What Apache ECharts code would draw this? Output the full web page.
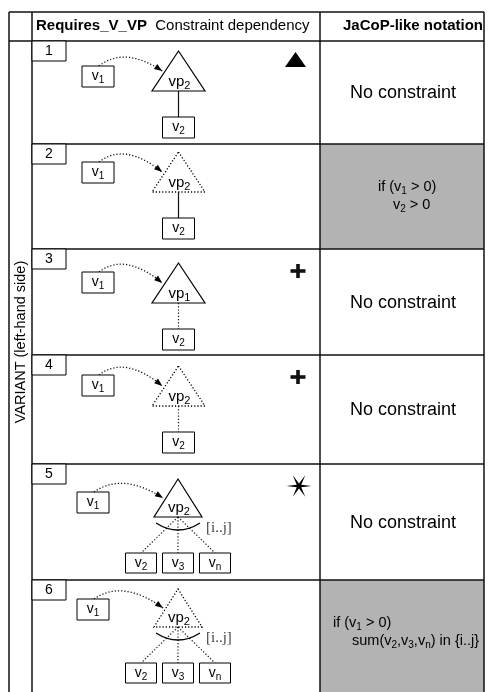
<!DOCTYPE html>
<html>
<head>
<meta charset="utf-8">
<title>Requires_V_VP</title>
<script src="https://cdn.jsdelivr.net/npm/echarts@6/dist/echarts.min.js"></script>
<style>
html, body { margin: 0; padding: 0; background: #fff; }
#main { width: 489px; height: 692px; }
</style>
</head>
<body>
<div id="main"></div>
<script>
// table content, one entry per row ({s|..} = subscript)
var rowIds = ['1', '2', '3', '4', '5', '6'];
var vpLabels = ['vp{s|2}', 'vp{s|2}', 'vp{s|1}', 'vp{s|2}', 'vp{s|2}', 'vp{s|2}'];
var vpOptional = [false, true, false, true, false, true];
var childLinks = ['solid', 'solid', 'dotted', 'dotted', 'group', 'group'];
var childLabels = [
    ['v{s|2}'], ['v{s|2}'], ['v{s|2}'], ['v{s|2}'],
    ['v{s|2}', 'v{s|3}', 'v{s|n}'], ['v{s|2}', 'v{s|3}', 'v{s|n}']
];
var markers = ['triangle', '', 'plus', 'plus', 'star', ''];
var notations = [
    ['No constraint'],
    ['if (v{s|1} > 0)', 'v{s|2} > 0'],
    ['No constraint'],
    ['No constraint'],
    ['No constraint'],
    ['if (v{s|1} > 0)', 'sum(v{s|2},v{s|3},v{s|n}) in {i..j}']
];
var grayCells = [false, true, false, false, false, true];
var headers = ['{b|Requires_V_VP}  Constraint dependency', 'JaCoP-like notation'];
var sideLabel = 'VARIANT (left-hand side)';
var rangeLabel = '[i..j]';

// layout
var H = 692;
var X0 = 9, X1 = 32, X2 = 320, X3 = 484;
var Y0 = 12, Y1 = 41;
var rowTops = [41, 144, 249, 355, 464, 580];
var v1Tops = [25, 18, 23, 20, 28, 19];
var triDy = [0, -2, 4, 1, 3, -3];
var noteX = [null, [378, 393], null, null, null, [333, 352]];
var FONT = '"Liberation Sans", Arial, Helvetica, sans-serif';
var SERIF = '"Liberation Serif", "Times New Roman", serif';

var els = [];

function txt(x, y, text, size, align, extra) {
    var style = {
        text: text,
        fontSize: size,
        fontFamily: FONT,
        fill: '#000',
        align: align || 'center',
        textAlign: align || 'center',
        verticalAlign: 'middle',
        textVerticalAlign: 'middle',
        lineHeight: Math.round(size * 1.25),
        rich: {
            s: {
                fontSize: Math.round(size * 0.7),
                fontFamily: FONT,
                fill: '#000',
                lineHeight: Math.round(size * 0.75),
                verticalAlign: 'bottom'
            },
            b: {
                fontSize: size,
                fontWeight: 'bold',
                fontFamily: FONT,
                fill: '#000',
                lineHeight: Math.round(size * 1.25)
            }
        }
    };
    if (extra) Object.assign(style, extra);
    return { type: 'text', x: x, y: y, z: 10, style: style };
}

function line(x1, y1, x2, y2, w, dotted) {
    return {
        type: 'line', z: 5,
        shape: { x1: x1, y1: y1, x2: x2, y2: y2 },
        style: { stroke: '#111', lineWidth: w, lineDash: dotted ? [1.2, 2] : null }
    };
}

function box(x, y, w, h, label, size) {
    els.push({
        type: 'rect', z: 6,
        shape: { x: x, y: y, width: w, height: h },
        style: { fill: '#fff', stroke: '#000', lineWidth: 1 }
    });
    els.push(txt(x + w / 2, y + h / 2, label, size || 14));
}

function arrow(sx, sy, ex, ey) {
    var cx = (sx + ex) / 2 - 6, cy = Math.min(sy, ey) - 20;
    els.push({
        type: 'bezierCurve', z: 5,
        shape: { x1: sx, y1: sy, x2: ex, y2: ey, cpx1: cx, cpy1: cy },
        style: { stroke: '#111', lineWidth: 1.3, lineDash: [1.2, 2], fill: null }
    });
    var dx = ex - cx, dy = ey - cy, len = Math.sqrt(dx * dx + dy * dy);
    dx /= len; dy /= len;
    var bx = ex - dx * 8, by = ey - dy * 8;
    els.push({
        type: 'polygon', z: 6,
        shape: { points: [[ex, ey], [bx - dy * 3, by + dx * 3], [bx + dy * 3, by - dx * 3]] },
        style: { fill: '#000' }
    });
}

// gray cells first
rowTops.forEach(function (top, i) {
    var bottom = i < rowTops.length - 1 ? rowTops[i + 1] : H;
    if (grayCells[i]) {
        els.push({
            type: 'rect', z: 1,
            shape: { x: X2, y: top, width: X3 - X2, height: bottom - top },
            style: { fill: '#b3b3b3' }
        });
    }
});

// grid
[X0, X1, X2, X3].forEach(function (x) { els.push(line(x, Y0, x, H, 1.5)); });
els.push(line(X0, Y0, X3, Y0, 1.5));
els.push(line(X0, Y1, X3, Y1, 1.5));
rowTops.slice(1).forEach(function (y) { els.push(line(X1, y, X3, y, 1.5)); });

// headers
els.push(txt(36, 26, headers[0], 15, 'left'));
els.push(txt(343, 26, headers[1], 15, 'left', { fontWeight: 'bold' }));
var side = txt(21, 342, sideLabel, 14.5);
side.rotation = Math.PI / 2;
els.push(side);

rowTops.forEach(function (top, i) {
    var bottom = i < rowTops.length - 1 ? rowTops[i + 1] : H;
    var group = childLinks[i] === 'group';

    // row number
    box(X1, top, 34, 20, rowIds[i], 14);

    // variation point triangle
    var cx = group ? 178 : 178.5;
    var apexY = top + (group ? 12 : 10) + triDy[i];
    var baseY = top + 50 + triDy[i];
    var hw = group ? 24 : 26.5;
    els.push({
        type: 'polygon', z: 5,
        shape: { points: [[cx, apexY], [cx + hw, baseY], [cx - hw, baseY]] },
        style: {
            fill: 'rgba(0,0,0,0)', stroke: '#000', lineWidth: vpOptional[i] ? 1.3 : 1.2,
            lineDash: vpOptional[i] ? [1.2, 2] : null
        }
    });
    els.push(txt(cx + 1, baseY - 9, vpLabels[i], 15));

    // v1 box and requires arrow
    var v1x = group ? 77 : 82;
    var v1y = top + v1Tops[i];
    box(v1x, v1y, 32, 21, 'v{s|1}', 14);
    var t = 0.5;
    arrow(v1x + 17, v1y, cx - hw * t - 3, apexY + (baseY - apexY) * t);

    // children
    if (!group) {
        var cTop = top + 76 + triDy[i];
        els.push(line(cx, baseY, cx, cTop, 1.2, childLinks[i] === 'dotted'));
        box(cx - 16, cTop, 32, 21, childLabels[i][0], 14);
    } else {
        var gTop = top + 86 + triDy[i];
        var arcY = top + 56 + triDy[i];
        [-37, 0, 37].forEach(function (off, k) {
            els.push(line(cx, baseY, cx + off, gTop, 1.2, true));
            box(cx + off - 15.5, gTop, 31, 20, childLabels[i][k], 14);
        });
        els.push({
            type: 'bezierCurve', z: 7,
            shape: { x1: cx - 22, y1: arcY, x2: cx + 22, y2: arcY, cpx1: cx, cpy1: arcY + 14 },
            style: { stroke: '#000', lineWidth: 1.3, fill: null }
        });
        els.push(txt(cx + 28, arcY + 5, rangeLabel, 15, 'left', { fontFamily: SERIF, fill: '#444' }));
    }

    // right-hand marker
    var my = top + 22;
    if (markers[i] === 'triangle') {
        els.push({
            type: 'polygon', z: 5,
            shape: { points: [[295.5, top + 11], [306, top + 26], [285, top + 26]] },
            style: { fill: '#000' }
        });
    } else if (markers[i] === 'plus') {
        els.push(line(290.5, my, 305.5, my, 3.6));
        els.push(line(298, my - 7, 298, my + 7, 3.6));
    } else if (markers[i] === 'star') {
        var pts = [];
        for (var k = 0; k < 12; k++) {
            var a = k * Math.PI / 6;
            var r = k % 2 === 0 ? 12.5 : 2.6;
            pts.push([299 + r * Math.cos(a), my + r * Math.sin(a)]);
        }
        els.push({ type: 'polygon', z: 5, shape: { points: pts }, style: { fill: '#000' } });
    }

    // notation
    var lines = notations[i];
    if (lines.length === 1) {
        els.push(txt((X2 + X3) / 2 + 1, (top + bottom) / 2 + 1, lines[0], 18));
    } else {
        els.push(txt(noteX[i][0], top + 43, lines[0], 14.5, 'left'));
        els.push(txt(noteX[i][1], top + 61, lines[1], 14.5, 'left'));
    }
});

var chart = echarts.init(document.getElementById('main'));
chart.setOption({
    backgroundColor: '#fff',
    animation: false,
    graphic: { elements: els }
});
</script>
</body>
</html>
